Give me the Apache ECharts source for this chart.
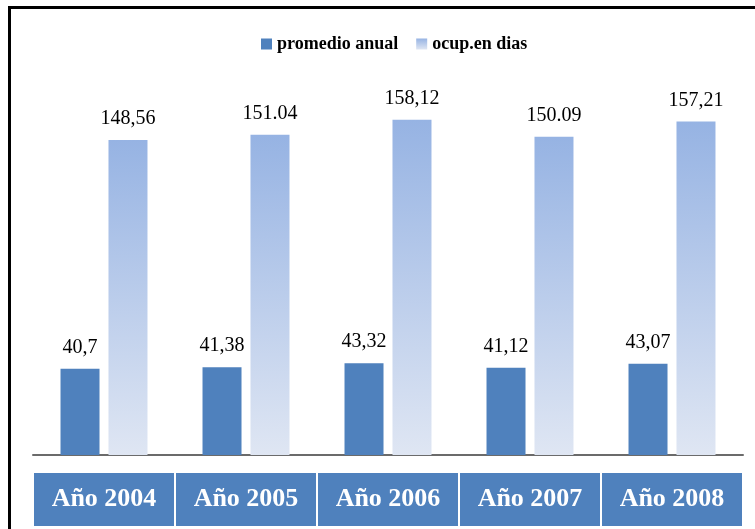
<!DOCTYPE html>
<html>
<head>
<meta charset="utf-8">
<script src="https://cdn.jsdelivr.net/npm/echarts@6/dist/echarts.min.js"></script>
<style>
html,body{margin:0;padding:0;background:#fff;}
#wrap{position:relative;width:755px;height:529px;overflow:hidden;}
#chart{position:absolute;left:0;top:0;width:755px;height:529px;}
#frame{position:absolute;left:8px;top:6px;width:760px;height:540px;border-top:3px solid #000;border-left:3px solid #000;pointer-events:none;}
</style>
</head>
<body>
<div id="wrap"><div id="chart"></div><div id="frame"></div></div>
<script>
var categories = ['Año 2004', 'Año 2005', 'Año 2006', 'Año 2007', 'Año 2008'];
var seriesNames = ['promedio anual', 'ocup.en dias'];
var promedioAnual = [40.7, 41.38, 43.32, 41.12, 43.07];
var ocupDias = [148.56, 151.04, 158.12, 150.09, 157.21];
var promedioLabels = ['40,7', '41,38', '43,32', '41,12', '43,07'];
var ocupLabels = ['148,56', '151.04', '158,12', '150.09', '157,21'];

var serif = '"Liberation Serif", "Times New Roman", serif';
var chart = echarts.init(document.getElementById('chart'));
chart.setOption({
  animation: false,
  legend: {
    top: 30,
    left: 256,
    itemWidth: 11,
    itemHeight: 11,
    itemGap: 18,
    icon: 'rect',
    textStyle: {fontFamily: serif, fontSize: 18, fontWeight: 'bold', color: '#000'},
    data: seriesNames
  },
  grid: {left: 33, right: 12, top: 115.7, bottom: 74},
  xAxis: {
    type: 'category',
    data: categories,
    axisLine: {lineStyle: {color: '#6b6b6b', width: 2}},
    axisTick: {show: false},
    axisLabel: {
      interval: 0,
      margin: 18,
      color: '#fff',
      fontFamily: serif,
      fontSize: 26,
      fontWeight: 'bold',
      backgroundColor: '#4F81BD',
      width: 140,
      height: 53,
      lineHeight: 53,
      align: 'center'
    }
  },
  yAxis: {type: 'value', min: 0, max: 160, show: false, splitLine: {show: false}},
  series: [
    {
      name: seriesNames[0],
      type: 'bar',
      data: promedioAnual,
      barWidth: 39,
      barGap: '23%',
      itemStyle: {color: '#4F81BD'},
      label: {
        show: true, position: 'top', distance: 11,
        fontFamily: serif, fontSize: 20, color: '#000',
        formatter: function (p) { return promedioLabels[p.dataIndex]; }
      }
    },
    {
      name: seriesNames[1],
      type: 'bar',
      data: ocupDias,
      barWidth: 39,
      itemStyle: {
        color: new echarts.graphic.LinearGradient(0, 0, 0, 1, [
          {offset: 0, color: '#96B3E3'},
          {offset: 1, color: '#DFE6F3'}
        ])
      },
      label: {
        show: true, position: 'top', distance: 11,
        fontFamily: serif, fontSize: 20, color: '#000',
        formatter: function (p) { return ocupLabels[p.dataIndex]; }
      }
    }
  ]
});
</script>
</body>
</html>
